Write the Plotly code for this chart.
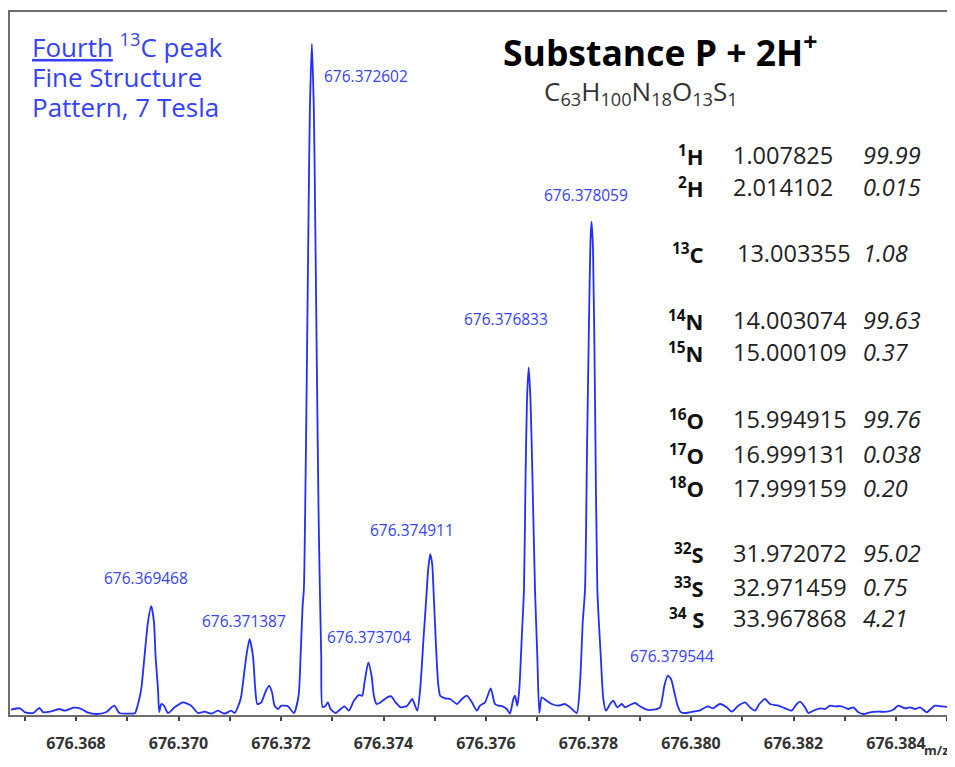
import plotly.graph_objects as go

# ---------------- data ----------------
mz = [
    676.366732, 676.366907, 676.367005, 676.367167, 676.367284, 676.367362, 676.367493, 676.367674,
    676.367785, 676.367947, 676.368078, 676.368220, 676.368404, 676.368585, 676.368747, 676.368845,
    676.368989, 676.369151,
    676.369201, 676.369273, 676.369337, 676.369404, 676.369468, 676.369521, 676.369552, 676.369599,
    676.369624, 676.369663, 676.369716, 676.369794, 676.369923, 676.370087, 676.370248, 676.370379,
    676.370508, 676.370639, 676.370769, 676.370898, 676.371029, 676.371093,
    676.371192, 676.371225, 676.371323, 676.371387, 676.371453, 676.371498, 676.371537, 676.371615,
    676.371693, 676.371766, 676.371824, 676.371875, 676.371941, 676.372006, 676.372136, 676.372253,
    676.372343,
    676.372382, 676.372421, 676.372446, 676.372471, 676.372502, 676.372538, 676.372563, 676.372602,
    676.372641, 676.372666, 676.372702, 676.372733, 676.372758, 676.372785, 676.372811, 676.372869,
    676.372914, 676.372967, 676.373064, 676.373162, 676.373240, 676.373324, 676.373421, 676.373519,
    676.373585, 676.373630, 676.373704, 676.373767, 676.373812, 676.373864, 676.373942, 676.374073,
    676.374151, 676.374235, 676.374333, 676.374463, 676.374561, 676.374592, 676.374659,
    676.374716, 676.374780, 676.374833, 676.374872, 676.374911, 676.374950, 676.374975, 676.375018,
    676.375067, 676.375106, 676.375204, 676.375301, 676.375432, 676.375530, 676.375627, 676.375725,
    676.375822, 676.375883, 676.375980, 676.376092, 676.376175, 676.376240, 676.376326, 676.376404,
    676.376468, 676.376533, 676.376566, 676.376611, 676.376650, 676.376696, 676.376741, 676.376771,
    676.376800, 676.376833, 676.376868, 676.376907, 676.376956, 676.377001, 676.377040, 676.377087,
    676.377184, 676.377282, 676.377411, 676.377541, 676.377639, 676.377770,
    676.377835, 676.377887, 676.377932, 676.377971, 676.378010, 676.378039, 676.378059, 676.378088,
    676.378127, 676.378172, 676.378239, 676.378289, 676.378342, 676.378420, 676.378484, 676.378562,
    676.378648, 676.378713, 676.378810, 676.378908, 676.379005, 676.379136, 676.379265, 676.379396,
    676.379480, 676.379544, 676.379610, 676.379675, 676.379739, 676.379805, 676.379903, 676.380032,
    676.380163, 676.380324, 676.380422, 676.380566, 676.380697, 676.380794, 676.380923, 676.381054,
    676.381151, 676.381249, 676.381333, 676.381444, 676.381541, 676.381703, 676.381867, 676.381965,
    676.382062, 676.382127, 676.382224, 676.382289, 676.382386, 676.382517, 676.382615, 676.382712,
    676.382810, 676.382940, 676.383069, 676.383167, 676.383264, 676.383362, 676.383493, 676.383655,
    676.383819, 676.383947, 676.384045, 676.384176, 676.384273, 676.384371, 676.384468, 676.384599,
    676.384677, 676.384761, 676.384892, 676.385040,
]
intensity = [
    4.3, 5.7, 1.7, 1.0, 6.0, 1.7, 2.3, 5.0,
    3.3, 6.3, 5.7, 1.7, 0.0, 1.7, 8.3, 1.0,
    0.3, 1.0,
    8.3, 25, 58, 92, 108, 92, 58, 25,
    2, 10, 8.3, 1, 6.7, 11.7, 8.3, 1,
    2.3, 0.3, 3.3, 0.3, 3.3, 1,
    11.7, 18.3, 58, 75, 58, 25, 10, 11.7,
    21.7, 28.3, 21.7, 8.3, 5, 8.3, 7.7, 1,
    18.3,
    58, 108, 125, 201, 335, 503, 604, 671,
    604, 503, 335, 201, 125, 58, 7, 8.3,
    11.7, 5, 1, 5, 7.7, 3.3, 13.3, 19,
    18.3, 31.7, 51.7, 38.3, 18.3, 10, 11.7, 16.7,
    17.7, 11.7, 6.7, 8.3, 15, 11.7, 3.3,
    25, 75, 115, 145, 160, 150, 125, 75,
    30, 18.3, 15.7, 15, 10, 15, 18.3, 11.7,
    3.3, 8.3, 11.7, 25.7, 10, 8.3, 7.7, 5,
    0.5, 15, 18.3, 8.3, 25, 75, 125, 235,
    315, 347, 315, 235, 125, 58, 1, 16.7,
    13.3, 10, 8.3, 10, 6.7, 1,
    31.7, 91.7, 125, 265, 395, 475, 493, 465,
    315, 125, 58, 15, 3.3, 10, 13.3, 6.7,
    10, 6.7, 9, 11, 7.7, 4.3, 4.3, 6.7,
    28.3, 38.3, 35, 21.7, 8.3, 1.7, 1, 2.3,
    3.3, 7.7, 5.7, 10, 6.7, 2.3, 8.3, 11.7,
    6.7, 3.3, 10, 15, 10, 8.3, 5, 3.3,
    10, 12.3, 6.7, 1, 3.3, 5.7, 5, 8.3,
    7.7, 7.7, 5, 6.7, 1.7, 0, 1.7, 2.3,
    2.3, 4.3, 8.3, 5.7, 6.7, 5, 6.7, 1.7,
    5, 8.3, 7.7, 7,
]

peak_mz = [676.369468, 676.371387, 676.372602, 676.373704, 676.374911,
           676.376833, 676.378059, 676.379544]

tick_vals = [676.368, 676.370, 676.372, 676.374, 676.376, 676.378, 676.380, 676.382, 676.384]
tick_text = ["676.368", "676.370", "676.372", "676.374", "676.376", "676.378", "676.380", "676.382", "676.384"]

iso_label = ["<sup>1</sup>H", "<sup>2</sup>H", "<sup>13</sup>C", "<sup>14</sup>N", "<sup>15</sup>N",
             "<sup>16</sup>O", "<sup>17</sup>O", "<sup>18</sup>O", "<sup>32</sup>S", "<sup>33</sup>S",
             "<sup>34</sup> S"]
iso_mass = ["1.007825", "2.014102", "13.003355", "14.003074", "15.000109", "15.994915",
            "16.999131", "17.999159", "31.972072", "32.971459", "33.967868"]
iso_abund = ["99.99", "0.015", "1.08", "99.63", "0.37", "99.76", "0.038", "0.20",
             "95.02", "0.75", "4.21"]

# ---------------- layout helpers ----------------
# the page body adds an 8 px margin on every side; keep the page from scrolling
OFF = 8
W, H = 955 - OFF, 767 - 2 * OFF
# plot area in picture pixels
L, R, T, B = 10, 949, 12, 715


def px(x):
    return (x - L) / (R - L)


def py(y):
    return (B - y) / (B - T)


BLUE_LINE = "rgb(35,45,255)"
BLUE_TEXT = "rgb(55,65,255)"
FONT = "Open Sans"

fig = go.Figure()
fig.add_trace(go.Scatter(
    x=mz, y=intensity, mode="lines",
    line=dict(color=BLUE_LINE, width=1.8, shape="spline", smoothing=0.6),
    hoverinfo="skip", showlegend=False,
))

ann = []
label_pos = [(146, 578), (244, 621), (365.5, 76), (369, 637), (412, 530),
             (506, 319), (586, 195), (672, 656)]
for m, (lx, ly) in zip(peak_mz, label_pos):
    ann.append(dict(xref="paper", yref="paper", x=px(lx), y=py(ly), text=f"{m:.6f}",
                    showarrow=False, xanchor="center", yanchor="middle",
                    font=dict(family=FONT, size=15.5, color=BLUE_TEXT)))

note = ["<u>Fourth</u> <sup>13</sup>C peak", "Fine Structure", "Pattern, 7 Tesla"]
for i, t in enumerate(note):
    ann.append(dict(xref="paper", yref="paper", x=px(30), y=py(46 + 30.5 * i), text=t,
                    showarrow=False, xanchor="left", yanchor="middle",
                    font=dict(family=FONT, size=26, color=BLUE_TEXT)))

ann.append(dict(xref="paper", yref="paper", x=px(660), y=py(50),
                text="<b>Substance P + 2H<sup>+</sup></b>", showarrow=False,
                xanchor="center", yanchor="middle",
                font=dict(family=FONT, size=35.5, color="black")))
ann.append(dict(xref="paper", yref="paper", x=px(641), y=py(92),
                text="C<sub>63</sub>H<sub>100</sub>N<sub>18</sub>O<sub>13</sub>S<sub>1</sub>",
                showarrow=False, xanchor="center", yanchor="middle",
                font=dict(family=FONT, size=26, color="#333333")))

row_y = [155, 187, 253, 320, 352, 419, 454, 488, 553, 587, 618]
for i, yv in enumerate(row_y):
    ann.append(dict(xref="paper", yref="paper", x=px(706), y=py(yv),
                    text=f"<b>{iso_label[i]}</b>", showarrow=False,
                    xanchor="right", yanchor="middle",
                    font=dict(family=FONT, size=22, color="#111111")))
    ann.append(dict(xref="paper", yref="paper", x=px(735 if i == 2 else 731), y=py(yv),
                    text=iso_mass[i], showarrow=False, xanchor="left", yanchor="middle",
                    font=dict(family=FONT, size=23.5, color="#222222")))
    ann.append(dict(xref="paper", yref="paper", x=px(861), y=py(yv),
                    text=f"<i>{iso_abund[i]}</i>", showarrow=False, xanchor="left",
                    yanchor="middle", font=dict(family=FONT, size=23.5, color="#222222")))

ann.append(dict(xref="paper", yref="paper", x=px(936), y=py(750), text="<b>m/z</b>",
                showarrow=False, xanchor="center", yanchor="middle",
                font=dict(family=FONT, size=13, color="#333333")))

fig.update_layout(
    width=W, height=H,
    margin=dict(l=L - OFF, r=W - (R - OFF), t=T - OFF, b=H - (B - OFF), pad=0),
    paper_bgcolor="white", plot_bgcolor="white",
    annotations=ann,
    xaxis=dict(
        range=[676.366712, 676.385034], tickvals=tick_vals, ticktext=tick_text,
        showgrid=False, zeroline=False, showline=True, mirror=True,
        linecolor="#6e6e6e", linewidth=2, ticks="outside", ticklen=4, tickwidth=1.5,
        tickcolor="#444444", ticklabelstandoff=9,
        tickfont=dict(family=FONT, size=16, color="#333333", weight="bold"),
        minor=dict(dtick=0.001, tick0=676.367, ticks="outside", ticklen=4,
                   tickwidth=1.5, tickcolor="#444444", showgrid=False),
    ),
    yaxis=dict(
        range=[-1, 703], showgrid=False, zeroline=False, showline=True, mirror=True,
        linecolor="#6e6e6e", linewidth=2, showticklabels=False, ticks="",
    ),
)

fig.write_html("out.html")
